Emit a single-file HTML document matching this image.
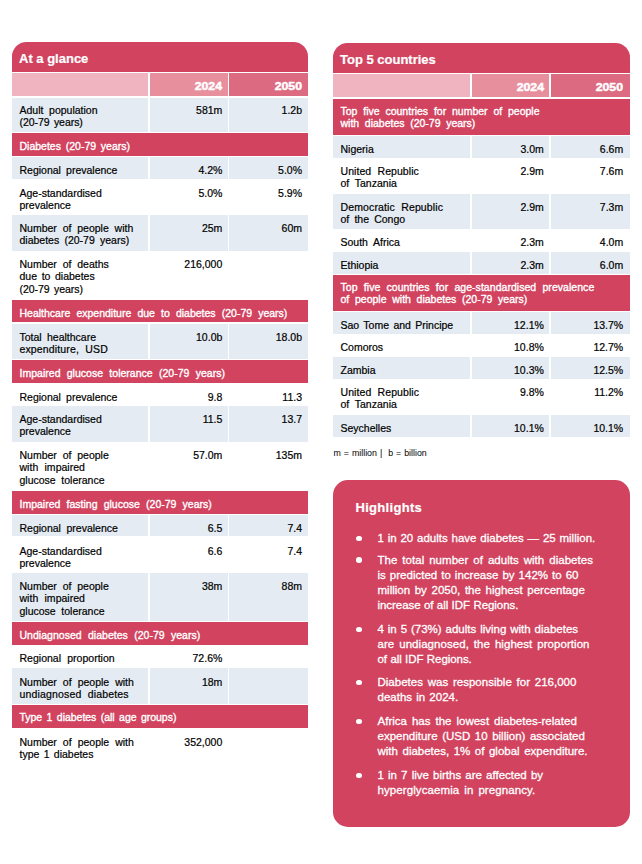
<!DOCTYPE html>
<html><head><meta charset="utf-8"><title>Africa at a glance</title>
<style>
*{margin:0;padding:0;box-sizing:border-box}
html,body{width:642px;height:864px;background:#fff;overflow:hidden}
body{position:relative;font-family:"Liberation Sans",sans-serif;}
div{position:absolute;white-space:nowrap}
.hd{background:#d1435f;border-radius:14.5px 14.5px 0 0}
.ttl{color:#fff;font-weight:bold;font-size:13px;line-height:16px;-webkit-text-stroke:0.2px #fff}
.yr{color:#fff;font-weight:bold;font-size:10.8px;line-height:12px;transform:scaleX(1.14);transform-origin:right center;-webkit-text-stroke:0.45px #fff}
.tx{color:#000;font-size:10.5px;line-height:12.6px;word-spacing:2.3px;-webkit-text-stroke:0.2px #000}
.st{color:#fff;font-size:10.5px;line-height:12.6px;word-spacing:2.3px;-webkit-text-stroke:0.35px #fff}
.nm{color:#000;font-size:10.5px;line-height:12.6px;text-align:right;-webkit-text-stroke:0.2px #000}
.fn{color:#000;font-size:8.8px;line-height:11px;word-spacing:0.55px}
.hl{background:#d1435f;border-radius:15px}
.hlt{color:#fff;font-weight:bold;font-size:13px;letter-spacing:0.3px;line-height:16px;-webkit-text-stroke:0.2px #fff}
.bul{width:5.4px;height:5.4px;border-radius:50%;background:#fff}
.hp{color:#fff;font-size:11.5px;line-height:15.2px;word-spacing:0.9px;-webkit-text-stroke:0.3px #fff}
</style></head>
<body>
<div class="hd" style="left:12px;top:42px;width:296px;height:30px"></div>
<div class="ttl" style="left:19px;top:50.7px">At a glance</div>
<div style="left:12px;top:73px;width:136px;height:23px;background:#f0b4c0"></div>
<div style="left:150px;top:73px;width:78px;height:23px;background:#e88f9e"></div>
<div style="left:229px;top:73px;width:79px;height:23px;background:#dc6a80"></div>
<div class="yr" style="right:419.7px;top:80.2px">2024</div>
<div class="yr" style="right:340px;top:80.2px">2050</div>
<div style="left:12px;top:98px;width:136px;height:34px;background:#e4ebf2"></div>
<div style="left:150px;top:98px;width:78px;height:34px;background:#e4ebf2"></div>
<div style="left:229px;top:98px;width:79px;height:34px;background:#e4ebf2"></div>
<div class="tx" style="left:19.5px;top:103.85px"><span style="word-spacing:2.7px">Adult population</span><br><span style="word-spacing:1.5px;letter-spacing:-0.05px">(20-79 years)</span></div>
<div class="nm" style="right:419.7px;top:103.85px">581m</div>
<div class="nm" style="right:340px;top:103.85px">1.2b</div>
<div style="left:12px;top:133px;width:296px;height:23px;background:#d1435f"></div>
<div class="st" style="left:19.5px;top:139.85px"><span style="word-spacing:1.85px">Diabetes (20-79 years)</span></div>
<div style="left:12px;top:157px;width:136px;height:22px;background:#e4ebf2"></div>
<div style="left:150px;top:157px;width:78px;height:22px;background:#e4ebf2"></div>
<div style="left:229px;top:157px;width:79px;height:22px;background:#e4ebf2"></div>
<div class="tx" style="left:19.5px;top:163.85px"><span style="word-spacing:2.2px">Regional prevalence</span></div>
<div class="nm" style="right:419.7px;top:163.85px">4.2%</div>
<div class="nm" style="right:340px;top:163.85px">5.0%</div>
<div class="tx" style="left:19.5px;top:186.85px">Age-standardised<br>prevalence</div>
<div class="nm" style="right:419.7px;top:186.85px">5.0%</div>
<div class="nm" style="right:340px;top:186.85px">5.9%</div>
<div style="left:12px;top:215px;width:136px;height:36px;background:#e4ebf2"></div>
<div style="left:150px;top:215px;width:78px;height:36px;background:#e4ebf2"></div>
<div style="left:229px;top:215px;width:79px;height:36px;background:#e4ebf2"></div>
<div class="tx" style="left:19.5px;top:221.85px"><span style="word-spacing:2.9px">Number of people with</span><br><span style="word-spacing:2.3px">diabetes (20-79 years)</span></div>
<div class="nm" style="right:419.7px;top:221.85px">25m</div>
<div class="nm" style="right:340px;top:221.85px">60m</div>
<div class="tx" style="left:19.5px;top:257.85px"><span style="word-spacing:2.9px">Number of deaths</span><br><span style="word-spacing:1.7px">due to diabetes</span><br><span style="word-spacing:1.5px;letter-spacing:-0.033px">(20-79 years)</span></div>
<div class="nm" style="right:419.7px;top:257.85px">216,000</div>
<div style="left:12px;top:300px;width:296px;height:22px;background:#d1435f"></div>
<div class="st" style="left:19.5px;top:306.85px"><span style="word-spacing:3.2px">Healthcare expenditure due to diabetes (20-79 years)</span></div>
<div style="left:12px;top:324px;width:136px;height:35px;background:#e4ebf2"></div>
<div style="left:150px;top:324px;width:78px;height:35px;background:#e4ebf2"></div>
<div style="left:229px;top:324px;width:79px;height:35px;background:#e4ebf2"></div>
<div class="tx" style="left:19.5px;top:330.85px"><span style="word-spacing:2.4px">Total healthcare</span><br><span style="word-spacing:3.3px;letter-spacing:0.14px">expenditure, USD</span></div>
<div class="nm" style="right:419.7px;top:330.85px">10.0b</div>
<div class="nm" style="right:340px;top:330.85px">18.0b</div>
<div style="left:12px;top:360px;width:296px;height:23px;background:#d1435f"></div>
<div class="st" style="left:19.5px;top:366.85px"><span style="word-spacing:3.3px;letter-spacing:0.021px">Impaired glucose tolerance (20-79 years)</span></div>
<div class="tx" style="left:19.5px;top:390.85px"><span style="word-spacing:2.2px">Regional prevalence</span></div>
<div class="nm" style="right:419.7px;top:390.85px">9.8</div>
<div class="nm" style="right:340px;top:390.85px">11.3</div>
<div style="left:12px;top:406px;width:136px;height:36px;background:#e4ebf2"></div>
<div style="left:150px;top:406px;width:78px;height:36px;background:#e4ebf2"></div>
<div style="left:229px;top:406px;width:79px;height:36px;background:#e4ebf2"></div>
<div class="tx" style="left:19.5px;top:412.85px">Age-standardised<br>prevalence</div>
<div class="nm" style="right:419.7px;top:412.85px">11.5</div>
<div class="nm" style="right:340px;top:412.85px">13.7</div>
<div class="tx" style="left:19.5px;top:448.85px"><span style="word-spacing:2.9px">Number of people</span><br><span style="word-spacing:3.3px;letter-spacing:0.025px">with impaired</span><br><span style="word-spacing:2.7px">glucose tolerance</span></div>
<div class="nm" style="right:419.7px;top:448.85px">57.0m</div>
<div class="nm" style="right:340px;top:448.85px">135m</div>
<div style="left:12px;top:491px;width:296px;height:23px;background:#d1435f"></div>
<div class="st" style="left:19.5px;top:497.85px"><span style="word-spacing:3.28px">Impaired fasting glucose (20-79 years)</span></div>
<div style="left:12px;top:515px;width:136px;height:21px;background:#e4ebf2"></div>
<div style="left:150px;top:515px;width:78px;height:21px;background:#e4ebf2"></div>
<div style="left:229px;top:515px;width:79px;height:21px;background:#e4ebf2"></div>
<div class="tx" style="left:19.5px;top:521.85px"><span style="word-spacing:2.6px">Regional prevalence</span></div>
<div class="nm" style="right:419.7px;top:521.85px">6.5</div>
<div class="nm" style="right:340px;top:521.85px">7.4</div>
<div class="tx" style="left:19.5px;top:544.85px">Age-standardised<br>prevalence</div>
<div class="nm" style="right:419.7px;top:544.85px">6.6</div>
<div class="nm" style="right:340px;top:544.85px">7.4</div>
<div style="left:12px;top:573px;width:136px;height:48px;background:#e4ebf2"></div>
<div style="left:150px;top:573px;width:78px;height:48px;background:#e4ebf2"></div>
<div style="left:229px;top:573px;width:79px;height:48px;background:#e4ebf2"></div>
<div class="tx" style="left:19.5px;top:579.85px"><span style="word-spacing:2.9px">Number of people</span><br><span style="word-spacing:3.3px;letter-spacing:0.025px">with impaired</span><br><span style="word-spacing:2.7px">glucose tolerance</span></div>
<div class="nm" style="right:419.7px;top:579.85px">38m</div>
<div class="nm" style="right:340px;top:579.85px">88m</div>
<div style="left:12px;top:622px;width:296px;height:23px;background:#d1435f"></div>
<div class="st" style="left:19.5px;top:628.85px"><span style="word-spacing:3.3px;letter-spacing:0.03px">Undiagnosed diabetes (20-79 years)</span></div>
<div class="tx" style="left:19.5px;top:651.85px"><span style="word-spacing:3.3px;letter-spacing:0.011px">Regional proportion</span></div>
<div class="nm" style="right:419.7px;top:651.85px">72.6%</div>
<div style="left:12px;top:668px;width:136px;height:36px;background:#e4ebf2"></div>
<div style="left:150px;top:668px;width:78px;height:36px;background:#e4ebf2"></div>
<div style="left:229px;top:668px;width:79px;height:36px;background:#e4ebf2"></div>
<div class="tx" style="left:19.5px;top:675.85px"><span style="word-spacing:3.1px">Number of people with</span><br><span style="word-spacing:3.3px;letter-spacing:0.158px">undiagnosed diabetes</span></div>
<div class="nm" style="right:419.7px;top:675.85px">18m</div>
<div style="left:12px;top:705px;width:296px;height:23px;background:#d1435f"></div>
<div class="st" style="left:19.5px;top:710.85px"><span style="word-spacing:1.5px;letter-spacing:-0.019px">Type 1 diabetes (all age groups)</span></div>
<div class="tx" style="left:19.5px;top:735.85px"><span style="word-spacing:3.1px">Number of people with</span><br><span style="word-spacing:1.5px;letter-spacing:-0.021px">type 1 diabetes</span></div>
<div class="nm" style="right:419.7px;top:735.85px">352,000</div>
<div class="hd" style="left:333px;top:43px;width:297px;height:30px"></div>
<div class="ttl" style="left:340px;top:52.2px">Top 5 countries</div>
<div style="left:333px;top:74px;width:137px;height:23px;background:#f0b4c0"></div>
<div style="left:472px;top:74px;width:77px;height:23px;background:#e88f9e"></div>
<div style="left:551px;top:74px;width:79px;height:23px;background:#dc6a80"></div>
<div class="yr" style="right:98.20000000000005px;top:81.2px">2024</div>
<div class="yr" style="right:18.799999999999955px;top:81.2px">2050</div>
<div style="left:333px;top:99px;width:297px;height:36px;background:#d1435f"></div>
<div class="st" style="left:340.5px;top:104.85px"><span style="word-spacing:2.92px">Top five countries for number of people</span><br><span style="word-spacing:2.73px">with diabetes (20-79 years)</span></div>
<div style="left:333px;top:136px;width:137px;height:22px;background:#e4ebf2"></div>
<div style="left:472px;top:136px;width:77px;height:22px;background:#e4ebf2"></div>
<div style="left:551px;top:136px;width:79px;height:22px;background:#e4ebf2"></div>
<div class="tx" style="left:340.5px;top:142.85px">Nigeria</div>
<div class="nm" style="right:98.20000000000005px;top:142.85px">3.0m</div>
<div class="nm" style="right:18.799999999999955px;top:142.85px">6.6m</div>
<div class="tx" style="left:340.5px;top:164.85px"><span style="word-spacing:3.3px;letter-spacing:0.064px">United Republic</span><br><span style="word-spacing:2.8px">of Tanzania</span></div>
<div class="nm" style="right:98.20000000000005px;top:164.85px">2.9m</div>
<div class="nm" style="right:18.799999999999955px;top:164.85px">7.6m</div>
<div style="left:333px;top:194px;width:137px;height:35px;background:#e4ebf2"></div>
<div style="left:472px;top:194px;width:77px;height:35px;background:#e4ebf2"></div>
<div style="left:551px;top:194px;width:79px;height:35px;background:#e4ebf2"></div>
<div class="tx" style="left:340.5px;top:200.85px"><span style="word-spacing:3.3px;letter-spacing:0.128px">Democratic Republic</span><br><span style="word-spacing:2.25px">of the Congo</span></div>
<div class="nm" style="right:98.20000000000005px;top:200.85px">2.9m</div>
<div class="nm" style="right:18.799999999999955px;top:200.85px">7.3m</div>
<div class="tx" style="left:340.5px;top:235.85px"><span style="word-spacing:2.7px">South Africa</span></div>
<div class="nm" style="right:98.20000000000005px;top:235.85px">2.3m</div>
<div class="nm" style="right:18.799999999999955px;top:235.85px">4.0m</div>
<div style="left:333px;top:252px;width:137px;height:22px;background:#e4ebf2"></div>
<div style="left:472px;top:252px;width:77px;height:22px;background:#e4ebf2"></div>
<div style="left:551px;top:252px;width:79px;height:22px;background:#e4ebf2"></div>
<div class="tx" style="left:340.5px;top:258.85px">Ethiopia</div>
<div class="nm" style="right:98.20000000000005px;top:258.85px">2.3m</div>
<div class="nm" style="right:18.799999999999955px;top:258.85px">6.0m</div>
<div style="left:333px;top:275px;width:297px;height:36px;background:#d1435f"></div>
<div class="st" style="left:340.5px;top:280.85px"><span style="word-spacing:3.3px;letter-spacing:0.041px">Top five countries for age-standardised prevalence</span><br><span style="word-spacing:2.8px">of people with diabetes (20-79 years)</span></div>
<div style="left:333px;top:312px;width:137px;height:22px;background:#e4ebf2"></div>
<div style="left:472px;top:312px;width:77px;height:22px;background:#e4ebf2"></div>
<div style="left:551px;top:312px;width:79px;height:22px;background:#e4ebf2"></div>
<div class="tx" style="left:340.5px;top:318.85px"><span style="word-spacing:1.5px;letter-spacing:-0.01px">Sao Tome and Principe</span></div>
<div class="nm" style="right:98.20000000000005px;top:318.85px">12.1%</div>
<div class="nm" style="right:18.799999999999955px;top:318.85px">13.7%</div>
<div class="tx" style="left:340.5px;top:340.85px">Comoros</div>
<div class="nm" style="right:98.20000000000005px;top:340.85px">10.8%</div>
<div class="nm" style="right:18.799999999999955px;top:340.85px">12.7%</div>
<div style="left:333px;top:357px;width:137px;height:22px;background:#e4ebf2"></div>
<div style="left:472px;top:357px;width:77px;height:22px;background:#e4ebf2"></div>
<div style="left:551px;top:357px;width:79px;height:22px;background:#e4ebf2"></div>
<div class="tx" style="left:340.5px;top:363.85px">Zambia</div>
<div class="nm" style="right:98.20000000000005px;top:363.85px">10.3%</div>
<div class="nm" style="right:18.799999999999955px;top:363.85px">12.5%</div>
<div class="tx" style="left:340.5px;top:385.85px"><span style="word-spacing:3.3px;letter-spacing:0.079px">United Republic</span><br><span style="word-spacing:2.8px">of Tanzania</span></div>
<div class="nm" style="right:98.20000000000005px;top:385.85px">9.8%</div>
<div class="nm" style="right:18.799999999999955px;top:385.85px">11.2%</div>
<div style="left:333px;top:415px;width:137px;height:22px;background:#e4ebf2"></div>
<div style="left:472px;top:415px;width:77px;height:22px;background:#e4ebf2"></div>
<div style="left:551px;top:415px;width:79px;height:22px;background:#e4ebf2"></div>
<div class="tx" style="left:340.5px;top:421.85px">Seychelles</div>
<div class="nm" style="right:98.20000000000005px;top:421.85px">10.1%</div>
<div class="nm" style="right:18.799999999999955px;top:421.85px">10.1%</div>
<div class="fn" style="left:333.5px;top:447.6px">m = million |&nbsp; b = billion</div>
<div class="hl" style="left:333px;top:480px;width:297px;height:347px"></div>
<div class="hlt" style="left:355.5px;top:500px">Highlights</div>
<div class="bul" style="left:356.3px;top:535.7px"></div>
<div class="hp" style="left:377.5px;top:530.55px"><span style="word-spacing:0.61px">1 in 20 adults have diabetes — 25 million.</span></div>
<div class="bul" style="left:356.3px;top:557.4px"></div>
<div class="hp" style="left:377.5px;top:552.55px"><span style="word-spacing:1.7px;letter-spacing:0.033px">The total number of adults with diabetes</span><br><span style="word-spacing:0.86px">is predicted to increase by 142% to 60</span><br><span style="word-spacing:1.44px">million by 2050, the highest percentage</span><br><span style="word-spacing:0.3px;letter-spacing:-0.059px">increase of all IDF Regions.</span></div>
<div class="bul" style="left:356.3px;top:626.5px"></div>
<div class="hp" style="left:377.5px;top:621.55px"><span style="word-spacing:0.71px">4 in 5 (73%) adults living with diabetes</span><br><span style="word-spacing:1.7px;letter-spacing:0.05px">are undiagnosed, the highest proportion</span><br><span style="word-spacing:0.3px;letter-spacing:-0.067px">of all IDF Regions.</span></div>
<div class="bul" style="left:356.3px;top:679.7px"></div>
<div class="hp" style="left:377.5px;top:674.55px"><span style="word-spacing:1.62px">Diabetes was responsible for 216,000</span><br><span style="word-spacing:1.0px">deaths in 2024.</span></div>
<div class="bul" style="left:356.3px;top:718.8px"></div>
<div class="hp" style="left:377.5px;top:713.55px"><span style="word-spacing:1.7px;letter-spacing:0.019px">Africa has the lowest diabetes-related</span><br><span style="word-spacing:1.35px">expenditure (USD 10 billion) associated</span><br><span style="word-spacing:1.34px">with diabetes, 1% of global expenditure.</span></div>
<div class="bul" style="left:356.3px;top:772.6px"></div>
<div class="hp" style="left:377.5px;top:767.55px"><span style="word-spacing:0.94px">1 in 7 live births are affected by</span><br><span style="word-spacing:1.7px;letter-spacing:0.089px">hyperglycaemia in pregnancy.</span></div>
</body></html>
